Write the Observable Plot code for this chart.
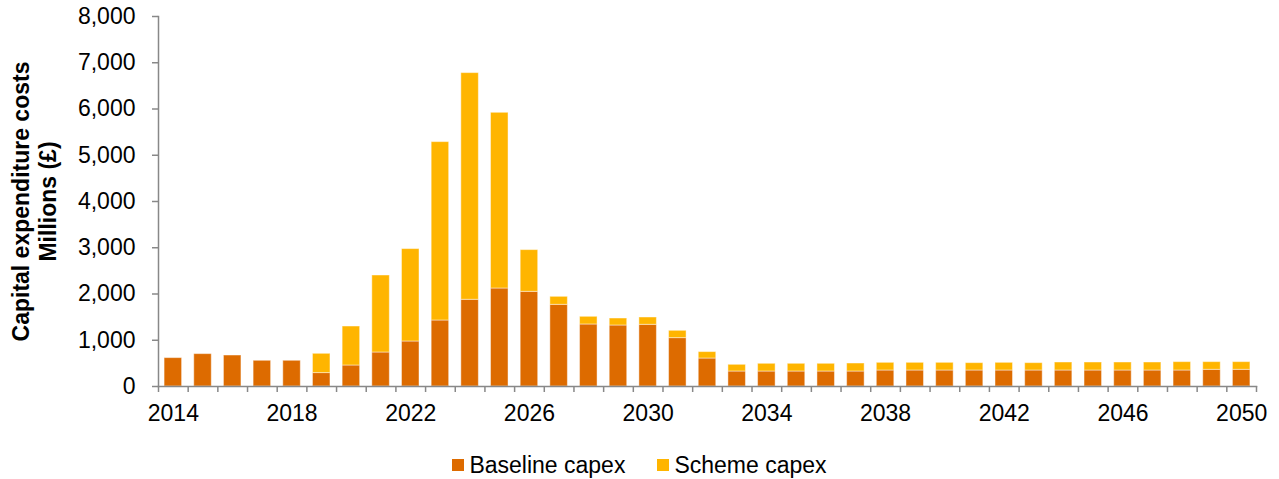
<!DOCTYPE html>
<html><head><meta charset="utf-8">
<script src="https://cdn.jsdelivr.net/npm/d3@7"></script>
<script src="https://cdn.jsdelivr.net/npm/@observablehq/plot@0.6"></script>
<style>
body{margin:0;background:#fff;font-family:"Liberation Sans",Arial,sans-serif;}
#legend{display:flex;justify-content:center;gap:32px;padding-top:12px;font-size:23px;line-height:26px;color:#000;}
#legend .item{display:flex;align-items:center;gap:5px;}
#legend .sw{width:12px;height:12px;display:inline-block;}
</style></head><body><div id="chart"></div><div id="legend"></div>
<script>
const years = [2014,2015,2016,2017,2018,2019,2020,2021,2022,2023,2024,2025,2026,2027,2028,2029,2030,2031,2032,2033,2034,2035,2036,2037,2038,2039,2040,2041,2042,2043,2044,2045,2046,2047,2048,2049,2050];
const baseline = [614,700,670,556,556,290,454,735,973,1427,1875,2119,2047,1766,1341,1319,1334,1046,605,324,324,324,324,324,346,346,346,346,346,346,346,346,346,346,346,361,361];
const scheme = [0,0,0,0,0,417,843,1665,1998,3857,4901,3799,902,173,166,151,158,158,139,145,167,167,167,173,166,166,166,159,166,159,173,173,173,173,181,166,166];
const seriesNames = ["Baseline capex","Scheme capex"];
const seriesColors = ["#DD6B00","#FFB500"];
const yTicks = [0,1000,2000,3000,4000,5000,6000,7000,8000];
const xLabels = [2014,2018,2022,2026,2030,2034,2038,2042,2046,2050];
const yTitle = "Capital expenditure costs\nMillions (£)";

const rows = [];
years.forEach((yr,i)=>{
  rows.push({year:yr, series:seriesNames[0], y1:0, y2:baseline[i]});
  if (scheme[i] > 0) rows.push({year:yr, series:seriesNames[1], y1:baseline[i], y2:baseline[i]+scheme[i]});
});
const boundaries = years.map(y=>y-0.5).concat([years[years.length-1]+0.5]);
const gray = "#888888";
const halfW = 0.295;

const chart = Plot.plot({
  width: 1279, height: 440,
  marginLeft: 158, marginRight: 23, marginTop: 16, marginBottom: 54,
  style: {fontFamily: '"Liberation Sans", Arial, sans-serif', background: "#fff"},
  x: {domain: [boundaries[0], boundaries[boundaries.length-1]], label: null},
  y: {domain: [0, 8000], label: null},
  color: {domain: seriesNames, range: seriesColors},
  marks: [
    Plot.rectY(rows, {x1: d=>d.year-halfW, x2: d=>d.year+halfW, y1: "y1", y2: "y2", fill: "series", stroke: "#fff", strokeOpacity: 0.45, strokeWidth: 1}),
    Plot.axisY(yTicks, {tickSize: 6, tickPadding: 17, tickFormat: d3.format(","), fontSize: 23, stroke: gray, strokeWidth: 1.5, fill: "#000", label: null}),
    Plot.axisX(boundaries, {tickSize: 6, tickFormat: () => "", stroke: gray, strokeWidth: 1.5, label: null}),
    Plot.axisX(xLabels, {tickSize: 0, tickPadding: 18, tickFormat: d=>String(d), fontSize: 23, fill: "#000", label: null}),
    Plot.frame({anchor: "left", stroke: gray, strokeWidth: 1.5}),
    Plot.frame({anchor: "bottom", stroke: gray, strokeWidth: 1.5}),
    Plot.text([yTitle], {text: d=>d, frameAnchor: "left", textAnchor: "middle", lineAnchor: "middle", rotate: -90, dx: -125, fontSize: 23, fontWeight: "bold", lineHeight: 1.17, fill: "#000"})
  ]
});
document.getElementById("chart").appendChild(chart);

const legend = document.getElementById("legend");
seriesNames.forEach((n,i)=>{
  const it = document.createElement("div"); it.className = "item";
  const sw = document.createElement("span"); sw.className = "sw"; sw.style.background = seriesColors[i];
  const tx = document.createElement("span"); tx.textContent = n;
  it.appendChild(sw); it.appendChild(tx); legend.appendChild(it);
});
</script></body></html>
